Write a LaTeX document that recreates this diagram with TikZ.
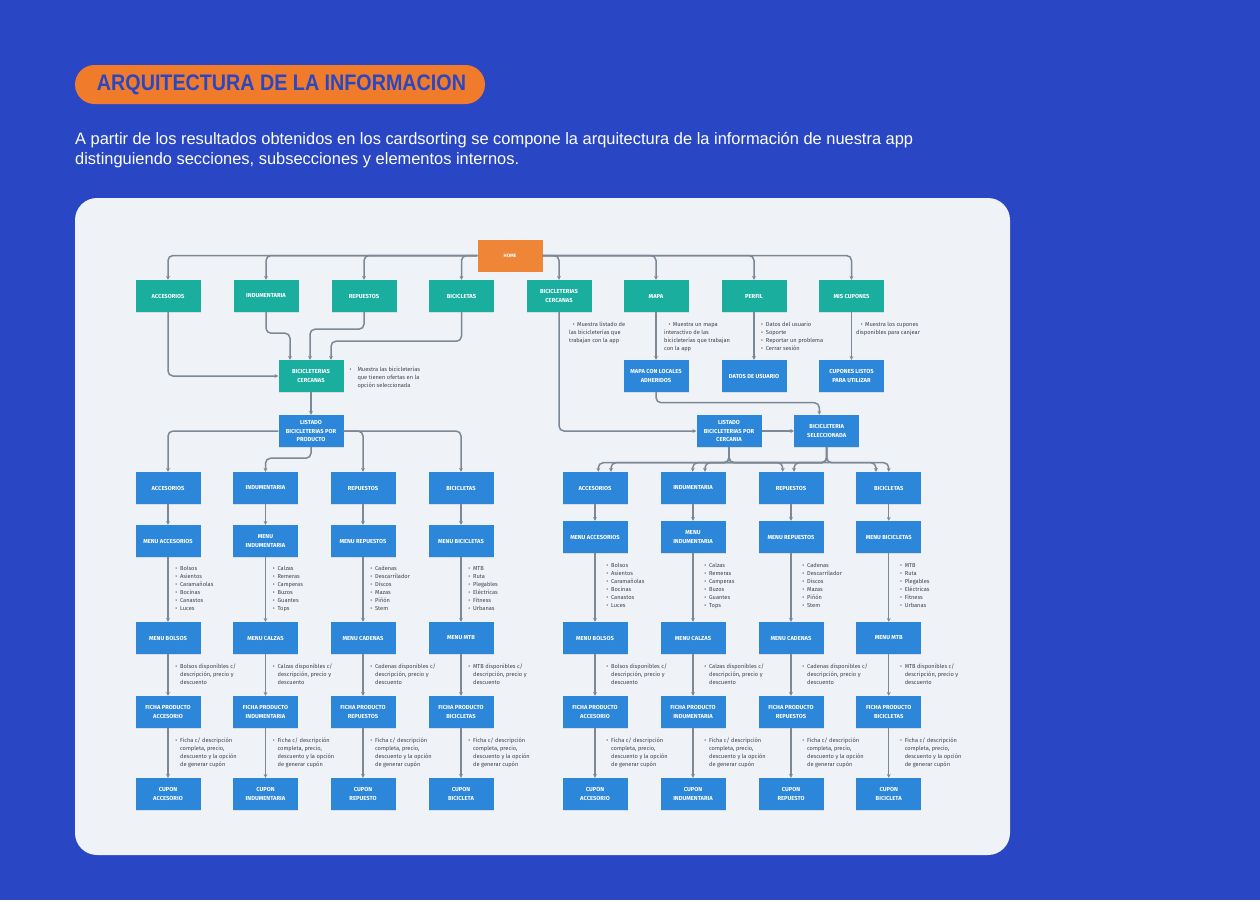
\documentclass[tikz,border=0pt]{standalone}
\usepackage{fontspec}
\usepackage{graphicx}
\setmainfont{Liberation Sans}
\newfontfamily\dfont{Fira Sans}
\usetikzlibrary{arrows.meta,shadows}
\definecolor{bgblue}{HTML}{2947C5}
\definecolor{pillor}{HTML}{F07B2A}
\definecolor{panelc}{HTML}{EFF3F7}
\definecolor{tealbox}{HTML}{1AAE9F}
\definecolor{boxblue}{HTML}{2C86D9}
\definecolor{homeor}{HTML}{EE8537}
\definecolor{lineg}{HTML}{7C8896}
\definecolor{desc}{HTML}{3F444C}
\newcommand{\bul}[1][4.7pt]{\makebox[#1][l]{\textbullet}}
\newcommand{\ind}[1][4.7pt]{\makebox[#1]{}}
\newcommand{\catlab}[1]{\ifcase#1\or ACCESORIOS\or INDUMENTARIA\or REPUESTOS\or BICICLETAS\fi}
\newcommand{\menulab}[1]{\ifcase#1\or MENU ACCESORIOS\or MENU\\INDUMENTARIA\or MENU REPUESTOS\or MENU BICICLETAS\fi}
\newcommand{\sublab}[1]{\ifcase#1\or MENU BOLSOS\or MENU CALZAS\or MENU CADENAS\or MENU MTB\fi}
\newcommand{\fichalab}[1]{\ifcase#1\or FICHA PRODUCTO\\ACCESORIO\or FICHA PRODUCTO\\INDUMENTARIA\or FICHA PRODUCTO\\REPUESTOS\or FICHA PRODUCTO\\BICICLETAS\fi}
\newcommand{\cuplab}[1]{\ifcase#1\or CUPON\\ACCESORIO\or CUPON\\INDUMENTARIA\or CUPON\\REPUESTO\or CUPON\\BICICLETA\fi}
\newcommand{\listlab}[1]{\ifcase#1\or
\bul Bolsos\\\bul Asientos\\\bul Caramañolas\\\bul Bocinas\\\bul Canastos\\\bul Luces\or
\bul Calzas\\\bul Remeras\\\bul Camperas\\\bul Buzos\\\bul Guantes\\\bul Tops\or
\bul Cadenas\\\bul Descarrilador\\\bul Discos\\\bul Mazas\\\bul Piñón\\\bul Stem\or
\bul MTB\\\bul Ruta\\\bul Plegables\\\bul Eléctricas\\\bul Fitness\\\bul Urbanas\fi}
\newcommand{\dispw}[1]{\ifcase#1\or Bolsos\or Calzas\or Cadenas\or MTB\fi}
\newcommand{\disptext}[1]{\bul \dispw{#1} disponibles c/\\\ind descripción, precio y\\\ind descuento}
\newcommand{\fichatext}{\bul Ficha c/ descripción\\\ind completa, precio,\\\ind descuento y la opción\\\ind de generar cupón}
\tikzset{
 basebox/.style={minimum width=65pt, minimum height=32pt, inner sep=0pt, align=center, text=white,
   font=\dfont\bfseries\fontsize{5.8}{8.2}\selectfont,
   drop shadow={shadow xshift=0pt, shadow yshift=-0.8pt, opacity=0.18}},
 tbox/.style={basebox, fill=tealbox},
 bbox/.style={basebox, fill=boxblue},
 hbox/.style={basebox, fill=homeor},
 conn/.style={draw=lineg, line width=1.5pt, rounded corners=5pt, -{Stealth[length=3.8pt,width=3.8pt]}},
 dtext/.style={anchor=north west, inner sep=0pt, align=left, text=desc, font=\dfont\fontsize{5.7}{8}\selectfont},
}
\begin{document}
\begin{tikzpicture}[x=1pt,y=-1pt]
\useasboundingbox (0,0) rectangle (1260,900);
\fill[bgblue] (0,0) rectangle (1260,900);
% header
\node[fill=pillor, rounded corners=19.5pt, minimum width=410pt, minimum height=39pt, inner sep=0pt] (pill) at (280,84.5) {};
\node[text=bgblue, inner sep=0pt, font=\bfseries] (title) at (281.5,84.5) {\resizebox{369pt}{15.7pt}{ARQUITECTURA DE LA INFORMACION}};
\node[anchor=base west, inner sep=0pt, text=white, font=\fontsize{16.5}{20}\selectfont] (p1) at (75,144)
 {\resizebox{838pt}{\height}{A partir de los resultados obtenidos en los cardsorting se compone la arquitectura de la información de nuestra app}};
\node[anchor=base west, inner sep=0pt, text=white, font=\fontsize{16.5}{20}\selectfont] (p2) at (75,164)
 {\resizebox{444pt}{\height}{distinguiendo secciones, subsecciones y elementos internos.}};
% panel
\fill[panelc, rounded corners=22pt] (75,198) rectangle (1010,855);
% top
\node[hbox, font=\dfont\bfseries\fontsize{4.8}{6}\selectfont] (home) at (510,255.5) {HOME};
\node[tbox] (t1) at (168,296) {ACCESORIOS};
\node[tbox] (t2) at (266,296) {INDUMENTARIA};
\node[tbox] (t3) at (364,296) {REPUESTOS};
\node[tbox] (t4) at (461.5,296) {BICICLETAS};
\node[tbox] (t5) at (559,296) {BICICLETERIAS\\CERCANAS};
\node[tbox] (t6) at (656,296) {MAPA};
\node[tbox] (t7) at (754,296) {PERFIL};
\node[tbox] (t8) at (851.5,296) {MIS CUPONES};
% second level
\node[tbox] (bc) at (311,376) {BICICLETERIAS\\CERCANAS};
\node[bbox] (mcl) at (656,376) {MAPA CON LOCALES\\ADHERIDOS};
\node[bbox] (du) at (754,376) {DATOS DE USUARIO};
\node[bbox] (cl) at (851.5,376) {CUPONES LISTOS\\PARA UTILIZAR};
\node[bbox] (lp) at (311,431) {LISTADO\\BICICLETERIAS POR\\PRODUCTO};
\node[bbox] (lc) at (729,431) {LISTADO\\BICICLETERIAS POR\\CERCANIA};
\node[bbox] (bs) at (826.7,431) {BICICLETERIA\\SELECCIONADA};
% descriptions top
\node[dtext] (dbc) at (349.5,366.5) {\bul[6.3pt] Muestra las bicicleterías\\\ind[6.3pt] que tienen ofertas en la\\\ind[6.3pt] opción seleccionada};
\node[dtext] (d5) at (569,322.2) {\makebox[8pt][r]{\textbullet\hspace{2.5pt}}Muestra listado de\\las bicicleterías que\\trabajan con la app};
\node[dtext] (d6) at (664,322.2) {\makebox[8.7pt][r]{\textbullet\hspace{2.5pt}}Muestra un mapa\\interactivo de las\\bicicleterías que trabajan\\con la app};
\node[dtext] (d7) at (761,322.2) {\bul Datos del usuario\\\bul Soporte\\\bul Reportar un problema\\\bul Cerrar sesión};
\node[dtext] (d8) at (856,322.2) {\makebox[9pt][r]{\textbullet\hspace{2.5pt}}Muestra los cupones\\disponibles para canjear};
% columns
\foreach \p/\cx/\my/\ly/\tx/\k in {L1/168/541/566.5/175.2/1, L2/265.5/541/566.5/272.7/2, L3/363/541/566.5/370.2/3, L4/461/541/566.5/468.2/4,
  R1/595/537/562.9/606.2/1, R2/693/537/562.9/704.2/2, R3/791/537/562.9/802.2/3, R4/888.7/537/562.9/899.9/4}{
 \node[bbox] (\p-cat) at (\cx,488) {\catlab{\k}};
 \node[bbox] (\p-menu) at (\cx,\my) {\menulab{\k}};
 \node[bbox] (\p-sub) at (\cx,638) {\sublab{\k}};
 \node[bbox] (\p-ficha) at (\cx,712) {\fichalab{\k}};
 \node[bbox] (\p-cup) at (\cx,794) {\cuplab{\k}};
 \node[dtext] (\p-list) at (\tx,\ly) {\listlab{\k}};
 \node[dtext] (\p-disp) at (\tx,663.9) {\disptext{\k}};
 \node[dtext] (\p-ftext) at (\tx,737.9) {\fichatext};
 \draw[conn] (\p-cat) -- (\p-menu);
 \draw[conn] (\p-menu) -- (\p-sub);
 \draw[conn] (\p-sub) -- (\p-ficha);
 \draw[conn] (\p-ficha) -- (\p-cup);
}
% connectors top
\foreach \n in {t1,t2,t3,t4} \draw[conn] (home.west) -| (\n.north);
\foreach \n in {t5,t6,t7,t8} \draw[conn] (home.east) -| (\n.north);
\draw[conn] (t1.south) |- (bc.west);
\draw[conn] (t2.south) -- ++(0,21) -| ([xshift=-21pt]bc.north);
\draw[conn] (t3.south) -- ++(0,17) -| ([xshift=-1pt]bc.north);
\draw[conn] (t4.south) -- ++(0,29) -| ([xshift=20pt]bc.north);
\draw[conn] (bc) -- (lp);
\draw[conn] (lp.west) -| (L1-cat.north);
\draw[conn] (lp.east) -| (L3-cat.north);
\draw[conn] (lp.east) -| (L4-cat.north);
\draw[conn] (lp.south) -- ++(0,11) -| (L2-cat.north);
\draw[conn] (t5.south) |- (lc.west);
\draw[conn] (t6) -- (mcl);
\draw[conn] (t7) -- (du);
\draw[conn] (t8) -- (cl);
\draw[conn] (mcl.south) -- ++(0,10.5) -| ([xshift=-7.4pt]bs.north);
\draw[conn] (lc) -- (bs);
\draw[conn] (lc.south) -- ++(0,15.5) -| ([xshift=3.3pt]R1-cat.north);
\draw[conn] (lc.south) -- ++(0,15.5) -| ([xshift=-0.3pt]R2-cat.north);
\draw[conn] (lc.south) -- ++(0,15.5) -| ([xshift=-8.3pt]R3-cat.north);
\draw[conn] (lc.south) -- ++(0,15.5) -| ([xshift=-12.7pt]R4-cat.north);
\draw[conn] (bs.south) -- ++(0,15.5) -| ([xshift=16pt]R1-cat.north);
\draw[conn] (bs.south) -- ++(0,15.5) -| ([xshift=12pt]R2-cat.north);
\draw[conn] (bs.south) -- ++(0,15.5) -| ([xshift=3pt]R3-cat.north);
\draw[conn] (bs.south) -- ++(0,15.5) -| ([xshift=0pt]R4-cat.north);
\end{tikzpicture}
\end{document}
